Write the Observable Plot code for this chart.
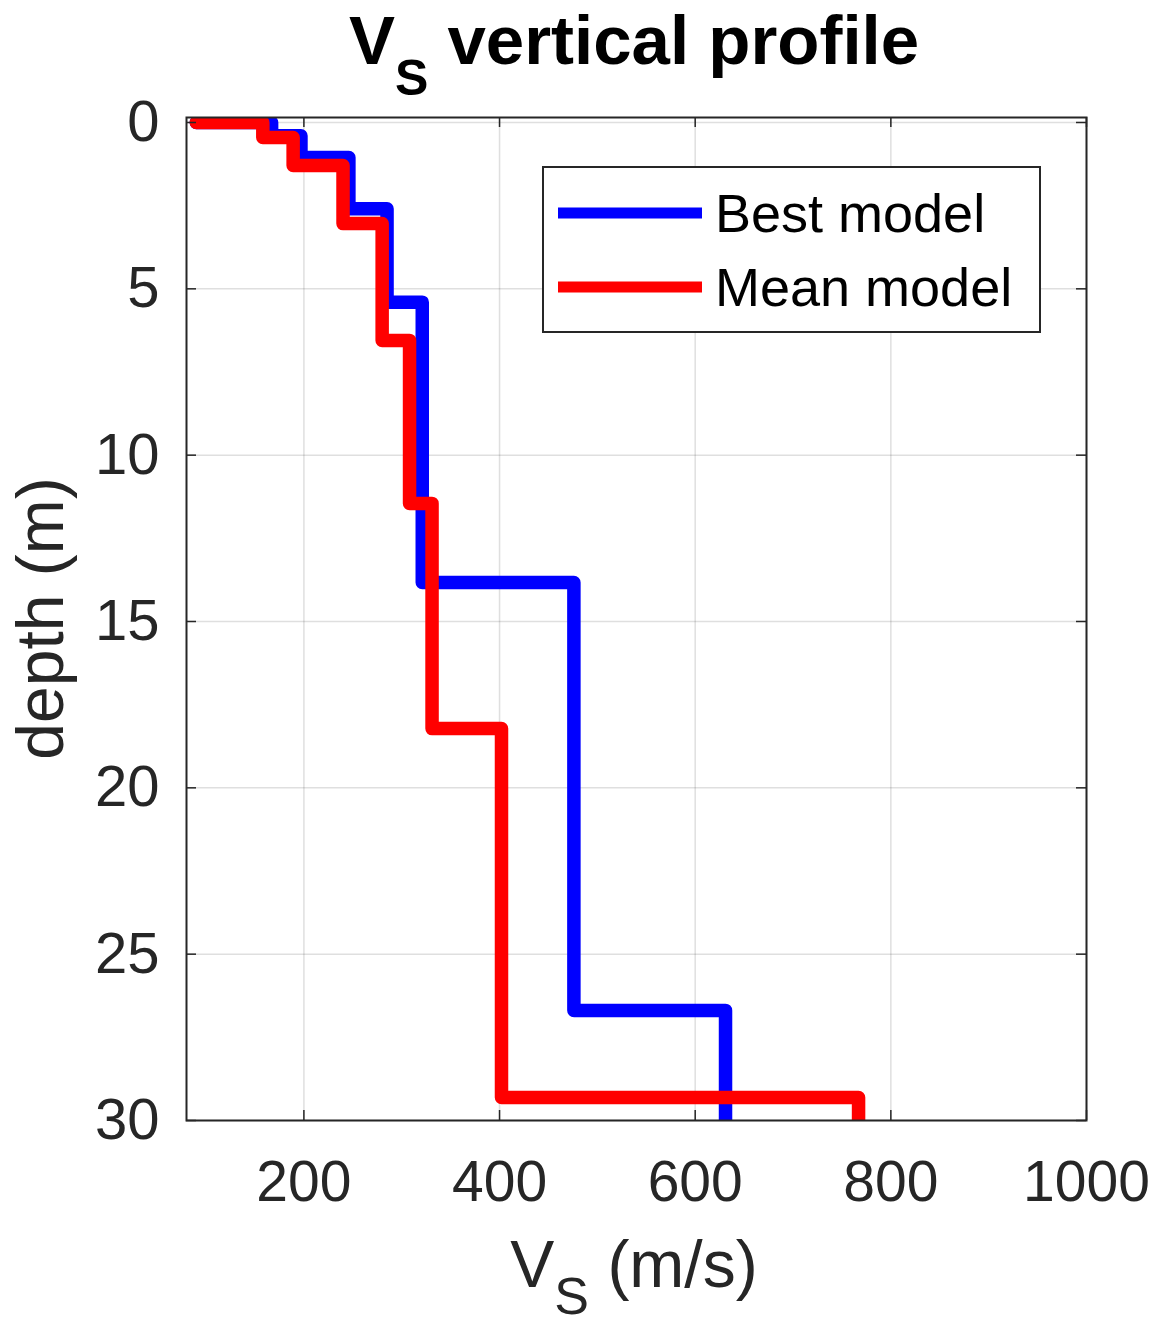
<!DOCTYPE html>
<html><head><meta charset="utf-8">
<script src="https://cdn.jsdelivr.net/npm/d3@7"></script>
<script src="https://cdn.jsdelivr.net/npm/@observablehq/plot@0.6"></script>
<style>body{margin:0;background:#fff} svg{display:block}</style>
</head><body><div id="chart"></div>
<script>
// ---- data ----
const startVs = 90;                                   // Vs where both profiles start at the surface
const bestVs = [167, 197, 246, 285, 321, 476, 631];   // Best model layer velocities (m/s)
const bestDepth = [0.4, 1.05, 2.59, 5.40, 13.83, 26.69]; // Best model layer interfaces (m)
const meanVs = [158, 189, 240, 280, 308, 331, 402, 767]; // Mean model layer velocities (m/s)
const meanDepth = [0.45, 1.29, 3.04, 6.55, 11.45, 18.22, 29.31]; // Mean model interfaces (m)
const maxDepth = 30;
const xTicks = [200, 400, 600, 800, 1000];
const yTicks = [0, 5, 10, 15, 20, 25, 30];
const seriesNames = ["Best model", "Mean model"];
const seriesColors = ["#0000ff", "#ff0000"];

function profile(vs, depths) {
  const pts = [{vs: startVs, depth: 0}];
  vs.forEach((v, i) => {
    const top = i === 0 ? 0 : depths[i - 1];
    const bot = i < depths.length ? depths[i] : maxDepth;
    pts.push({vs: v, depth: top});
    pts.push({vs: v, depth: bot});
  });
  return pts;
}
const bestPts = profile(bestVs, bestDepth);
const meanPts = profile(meanVs, meanDepth);

const W = 1156, H = 1329, mL = 186, mR = 70, mT = 117, mB = 209;
const frameW = W - mL - mR, frameH = H - mT - mB, tick = 10;
const ink = "#262626";
const font = "'Liberation Sans', Arial, Helvetica, sans-serif";

const lineOpts = {x: "vs", y: "depth", strokeWidth: 13.5, strokeLinejoin: "round", strokeLinecap: "round", clip: true};

const chart = Plot.plot({
  width: W, height: H,
  marginLeft: mL, marginRight: mR, marginTop: mT, marginBottom: mB,
  style: {fontFamily: font, fontSize: "56px", color: ink, background: "#fff"},
  x: {domain: [80, 1000], label: null},
  y: {domain: [-0.15, 30], reverse: true, label: null},
  marks: [
    Plot.gridX(xTicks, {stroke: ink, strokeOpacity: 0.15, strokeWidth: 1.5}),
    Plot.gridY(yTicks, {stroke: ink, strokeOpacity: 0.15, strokeWidth: 1.5}),
    Plot.line(bestPts, {...lineOpts, stroke: seriesColors[0]}),
    Plot.line(meanPts, {...lineOpts, stroke: seriesColors[1]}),
    Plot.ruleX(xTicks, {stroke: ink, strokeWidth: 1.5, insetTop: frameH - tick}),
    Plot.ruleX(xTicks, {stroke: ink, strokeWidth: 1.5, insetBottom: frameH - tick}),
    Plot.ruleY(yTicks, {stroke: ink, strokeWidth: 1.5, insetRight: frameW - tick}),
    Plot.ruleY(yTicks, {stroke: ink, strokeWidth: 1.5, insetLeft: frameW - tick}),
    Plot.frame({stroke: ink, strokeWidth: 2}),
    Plot.axisX(xTicks, {tickSize: 0, tickPadding: 40, fontSize: 57, fill: ink, label: null, tickFormat: d => String(d)}),
    Plot.axisY(yTicks, {tickSize: 0, tickPadding: 27, fontSize: 58, fill: ink, label: null, tickFormat: d => String(d)})
  ]
});
document.getElementById("chart").appendChild(chart);

const svg = d3.select(chart);

// Title with subscript
const title = svg.append("text")
  .attr("x", mL + frameW / 2 - 2).attr("y", 64)
  .attr("text-anchor", "middle")
  .attr("font-family", font).attr("font-weight", "bold").attr("font-size", 69).attr("fill", "#000");
title.append("tspan").text("V");
title.append("tspan").attr("font-size", 50).attr("dy", 31).text("S");
title.append("tspan").attr("dy", -31).text(" vertical profile");

// X label
const xl = svg.append("text")
  .attr("x", mL + frameW / 2 - 2).attr("y", 1287)
  .attr("text-anchor", "middle")
  .attr("font-family", font).attr("font-size", 66).attr("fill", ink);
xl.append("tspan").text("V");
xl.append("tspan").attr("font-size", 52).attr("dy", 27).text("S");
xl.append("tspan").attr("dy", -27).text(" (m/s)");

// Y label
svg.append("text")
  .attr("transform", `translate(63,${mT + frameH / 2}) rotate(-90)`)
  .attr("text-anchor", "middle")
  .attr("font-family", font).attr("font-size", 66).attr("fill", ink)
  .text("depth (m)");

// Legend
const lg = svg.append("g");
lg.append("rect").attr("x", 543).attr("y", 167).attr("width", 497).attr("height", 165)
  .attr("fill", "#fff").attr("stroke", ink).attr("stroke-width", 2);
const rowsY = [213, 287];
seriesNames.forEach((name, i) => {
  lg.append("line").attr("x1", 558).attr("x2", 702).attr("y1", rowsY[i]).attr("y2", rowsY[i])
    .attr("stroke", seriesColors[i]).attr("stroke-width", 11);
  lg.append("text").attr("x", 715).attr("y", rowsY[i]).attr("dy", "0.36em")
    .attr("text-anchor", "start")
    .attr("font-family", font).attr("font-size", 54).attr("fill", "#000").text(name);
});
</script>
</body></html>
